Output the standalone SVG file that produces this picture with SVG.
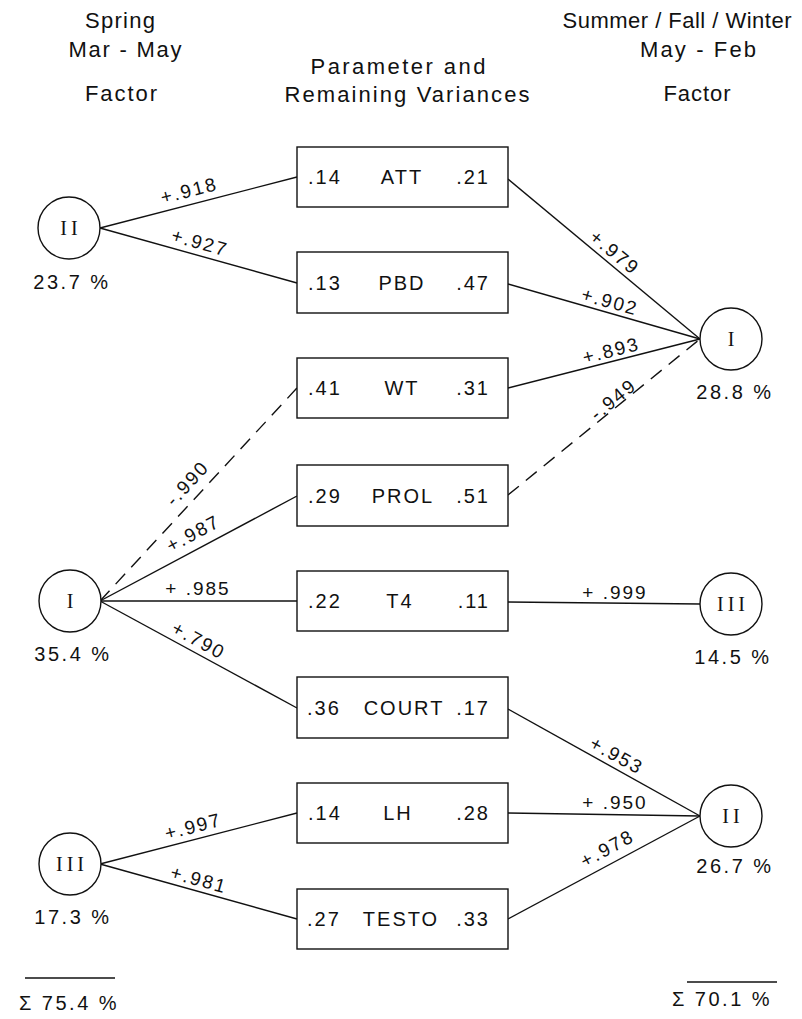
<svg xmlns="http://www.w3.org/2000/svg" width="802" height="1019" viewBox="0 0 802 1019">
<style>
text{font-family:"Liberation Sans",Arial,sans-serif;fill:#111}
.hd{font-size:22px;text-anchor:middle}
.box{fill:#fff;stroke:#111;stroke-width:1.4}
.bt{font-size:20px;letter-spacing:2px}
.nm{text-anchor:middle}
.rv{text-anchor:end}
.fac{fill:#fff;stroke:#111;stroke-width:1.4}
.rn{font-family:"Liberation Serif","Times New Roman",serif;font-size:20px;text-anchor:middle;letter-spacing:4px}
.pc{font-size:20px;text-anchor:middle;letter-spacing:2.5px}
.ln{stroke:#111;stroke-width:1.4;fill:none}
.dash{stroke-dasharray:14 9}
.lb{font-size:19px;text-anchor:middle;letter-spacing:2px}
</style>
<rect width="802" height="1019" fill="#fff"/>
<g id="headers">
<text class="hd" x="120" y="28" textLength="70" lengthAdjust="spacing">Spring</text>
<text class="hd" x="125" y="57" textLength="113" lengthAdjust="spacing">Mar - May</text>
<text class="hd" x="121" y="101" textLength="72" lengthAdjust="spacing">Factor</text>
<text class="hd" x="398" y="74" textLength="175" lengthAdjust="spacing">Parameter and</text>
<text class="hd" x="407" y="102" textLength="245" lengthAdjust="spacing">Remaining Variances</text>
<text class="hd" x="677" y="28" textLength="229" lengthAdjust="spacing">Summer / Fall / Winter</text>
<text class="hd" x="698" y="57" textLength="116" lengthAdjust="spacing">May - Feb</text>
<text class="hd" x="697" y="101" textLength="67" lengthAdjust="spacing">Factor</text>
</g>
<g id="connectors">
<line class="ln" x1="100" y1="228" x2="297" y2="177"/>
<line class="ln" x1="100" y1="228" x2="297" y2="283"/>
<line class="ln dash" x1="100" y1="601" x2="297" y2="388"/>
<line class="ln" x1="100" y1="601" x2="297" y2="496"/>
<line class="ln" x1="100" y1="601" x2="297" y2="601"/>
<line class="ln" x1="100" y1="601" x2="297" y2="708"/>
<line class="ln" x1="100" y1="864" x2="297" y2="813"/>
<line class="ln" x1="100" y1="864" x2="297" y2="919"/>
<line class="ln" x1="508" y1="179" x2="700" y2="339"/>
<line class="ln" x1="508" y1="284" x2="700" y2="339"/>
<line class="ln" x1="508" y1="388" x2="700" y2="339"/>
<line class="ln dash" x1="508" y1="495" x2="700" y2="339"/>
<line class="ln" x1="508" y1="602" x2="700" y2="604"/>
<line class="ln" x1="508" y1="709" x2="700" y2="816"/>
<line class="ln" x1="508" y1="813" x2="700" y2="816"/>
<line class="ln" x1="508" y1="919" x2="700" y2="816"/>
<g id="edge-labels">
<text class="lb" transform="translate(189 190) rotate(-14.3)" y="7">+.918</text>
<text class="lb" transform="translate(200 242) rotate(15.7)" y="7">+.927</text>
<text class="lb" transform="translate(187 483) rotate(-47.4)" y="7">-.990</text>
<text class="lb" transform="translate(193 533) rotate(-28)" y="7">+.987</text>
<text class="lb" transform="translate(198 588)" y="7">+ .985</text>
<text class="lb" transform="translate(199 640) rotate(28.6)" y="7">+.790</text>
<text class="lb" transform="translate(193 826) rotate(-14.6)" y="7">+.997</text>
<text class="lb" transform="translate(199 879) rotate(15.6)" y="7">+.981</text>
<text class="lb" transform="translate(615 252) rotate(39.6)" y="7">+.979</text>
<text class="lb" transform="translate(610 301) rotate(15.5)" y="7">+.902</text>
<text class="lb" transform="translate(611 350) rotate(-14.4)" y="7">+.893</text>
<text class="lb" transform="translate(613 399) rotate(-39)" y="7">-.949</text>
<text class="lb" transform="translate(615 592)" y="7">+ .999</text>
<text class="lb" transform="translate(617 755) rotate(28.8)" y="7">+.953</text>
<text class="lb" transform="translate(615 802)" y="7">+ .950</text>
<text class="lb" transform="translate(607 848) rotate(-28.3)" y="7">+.978</text>
</g>
</g>
<g id="box-ATT"><rect class="box" x="297" y="147" width="211" height="60"/>
<text class="bt" x="308" y="184">.14</text><text class="bt nm" x="402" y="184">ATT</text><text class="bt rv" x="490" y="184">.21</text></g>
<g id="box-PBD"><rect class="box" x="297" y="252" width="211" height="61"/>
<text class="bt" x="308" y="290">.13</text><text class="bt nm" x="402" y="290">PBD</text><text class="bt rv" x="490" y="290">.47</text></g>
<g id="box-WT"><rect class="box" x="297" y="358" width="211" height="60"/>
<text class="bt" x="308" y="395">.41</text><text class="bt nm" x="402" y="395">WT</text><text class="bt rv" x="490" y="395">.31</text></g>
<g id="box-PROL"><rect class="box" x="297" y="465" width="211" height="61"/>
<text class="bt" x="308" y="503">.29</text><text class="bt nm" x="403" y="503">PROL</text><text class="bt rv" x="490" y="503">.51</text></g>
<g id="box-T4"><rect class="box" x="297" y="571" width="211" height="60"/>
<text class="bt" x="308" y="608">.22</text><text class="bt nm" x="400" y="608">T4</text><text class="bt rv" x="490" y="608">.11</text></g>
<g id="box-COURT"><rect class="box" x="297" y="677" width="211" height="61"/>
<text class="bt" x="307" y="715">.36</text><text class="bt nm" x="404" y="715">COURT</text><text class="bt rv" x="490" y="715">.17</text></g>
<g id="box-LH"><rect class="box" x="297" y="783" width="211" height="60"/>
<text class="bt" x="308" y="820">.14</text><text class="bt nm" x="398" y="820">LH</text><text class="bt rv" x="490" y="820">.28</text></g>
<g id="box-TESTO"><rect class="box" x="297" y="889" width="211" height="60"/>
<text class="bt" x="307" y="926">.27</text><text class="bt nm" x="401" y="926">TESTO</text><text class="bt rv" x="490" y="926">.33</text></g>
<g id="spring-II"><circle class="fac" cx="69" cy="228" r="31"/><text class="rn" x="71" y="235">II</text><text class="pc" x="72" y="289">23.7 %</text></g>
<g id="spring-I"><circle class="fac" cx="70" cy="601" r="31"/><text class="rn" x="72" y="608">I</text><text class="pc" x="73" y="661">35.4 %</text></g>
<g id="spring-III"><circle class="fac" cx="70" cy="864" r="31"/><text class="rn" x="72" y="871">III</text><text class="pc" x="73" y="924">17.3 %</text></g>
<g id="sfw-I"><circle class="fac" cx="731" cy="339" r="31"/><text class="rn" x="733" y="346">I</text><text class="pc" x="735" y="399">28.8 %</text></g>
<g id="sfw-III"><circle class="fac" cx="731" cy="604" r="31"/><text class="rn" x="733" y="611">III</text><text class="pc" x="733" y="664">14.5 %</text></g>
<g id="sfw-II"><circle class="fac" cx="731" cy="816" r="31"/><text class="rn" x="733" y="823">II</text><text class="pc" x="735" y="873">26.7 %</text></g>
<g id="sum-left"><line class="ln" x1="25" y1="978" x2="115" y2="978"/><text class="pc" x="69" y="1010">Σ 75.4 %</text></g>
<g id="sum-right"><line class="ln" x1="687" y1="982" x2="777" y2="982"/><text class="pc" x="722" y="1006">Σ 70.1 %</text></g>
</svg>
